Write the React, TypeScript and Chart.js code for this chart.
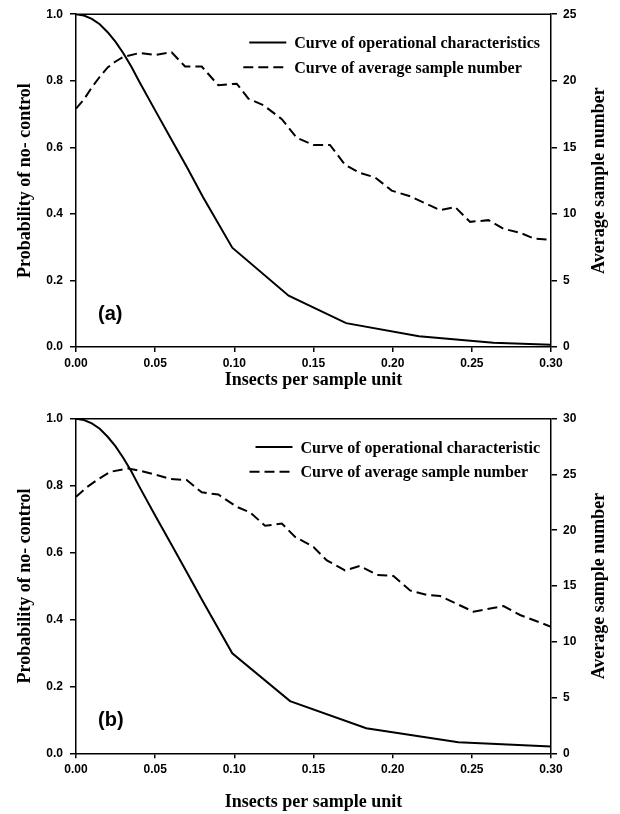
import React, { useEffect, useRef } from "react";
import { Chart, registerables } from "chart.js";
Chart.register(...registerables);

// ---------- Data: panel (a) ----------
const ocAX = [0, 0.005, 0.01, 0.015, 0.02, 0.025, 0.03, 0.035, 0.04, 0.05, 0.06, 0.07, 0.08, 0.0987, 0.1343, 0.1706, 0.2166, 0.2636, 0.3];
const ocAY = [1.0, 0.996, 0.986, 0.97, 0.946, 0.917, 0.882, 0.842, 0.797, 0.711, 0.626, 0.541, 0.452, 0.2985, 0.154, 0.0717, 0.032, 0.013, 0.007];
const asnAX = [0, 0.005, 0.01, 0.015, 0.02, 0.025, 0.03, 0.0404, 0.05, 0.0604, 0.0689, 0.0794, 0.0899, 0.1015, 0.1089, 0.1184, 0.13, 0.1394, 0.15, 0.1604, 0.1699, 0.1789, 0.1889, 0.1994, 0.211, 0.23, 0.2394, 0.2489, 0.2605, 0.27, 0.2805, 0.2889, 0.3];
const asnAY = [17.9, 18.6, 19.5, 20.3, 21.0, 21.45, 21.8, 22.09, 21.94, 22.14, 21.07, 21.07, 19.66, 19.78, 18.66, 18.16, 17.12, 15.72, 15.18, 15.18, 13.69, 13.1, 12.74, 11.75, 11.32, 10.28, 10.52, 9.4, 9.53, 8.88, 8.58, 8.16, 8.04];

// ---------- Data: panel (b) ----------
const ocBX = [0, 0.005, 0.01, 0.015, 0.02, 0.025, 0.03, 0.035, 0.04, 0.05, 0.06, 0.07, 0.08, 0.0987, 0.1352, 0.1833, 0.2415, 0.3];
const ocBY = [1.0, 0.996, 0.986, 0.97, 0.946, 0.917, 0.882, 0.842, 0.797, 0.711, 0.626, 0.541, 0.455, 0.299, 0.156, 0.0747, 0.033, 0.02];
const asnBX = [0, 0.0067, 0.0131, 0.0215, 0.033, 0.04, 0.05, 0.0594, 0.0699, 0.0794, 0.0899, 0.1015, 0.11, 0.1194, 0.13, 0.1384, 0.15, 0.1584, 0.1699, 0.1794, 0.19, 0.2005, 0.211, 0.2215, 0.23, 0.251, 0.27, 0.2805, 0.3];
const asnBY = [23.0, 23.84, 24.49, 25.23, 25.54, 25.35, 25.0, 24.6, 24.5, 23.4, 23.2, 22.1, 21.6, 20.4, 20.6, 19.4, 18.5, 17.3, 16.4, 16.8, 16.0, 15.9, 14.6, 14.2, 14.1, 12.7, 13.2, 12.4, 11.35];

// ---------- Labels ----------
const xTitle = "Insects per sample unit";
const yLeftTitle = "Probability of no- control";
const yRightTitle = "Average sample number";
const legendA = ["Curve of operational characteristics", "Curve of average sample number"];
const legendB = ["Curve of operational characteristic", "Curve of average sample number"];
const xTickValues = [0, 0.05, 0.1, 0.15, 0.2, 0.25, 0.3];

const SERIF = '"Liberation Serif", "Times New Roman", serif';
const SANS = '"Liberation Sans", Arial, sans-serif';

const zip = (xs: number[], ys: number[]) => xs.map((x, i) => ({ x, y: ys[i] }));

const decor = {
  id: "decor",
  afterDraw(chart: any, _args: any, opts: any) {
    const { ctx, chartArea: ca } = chart;
    ctx.save();
    // top frame line
    ctx.strokeStyle = "#000";
    ctx.lineWidth = 1.5;
    ctx.beginPath();
    ctx.moveTo(ca.left, ca.top);
    ctx.lineTo(ca.right, ca.top);
    ctx.stroke();

    // legend
    ctx.font = `bold 16px ${SERIF}`;
    ctx.fillStyle = "#000";
    ctx.textAlign = "left";
    ctx.textBaseline = "alphabetic";
    const ds = chart.data.datasets;
    const maxW = Math.max(...ds.map((d: any) => ctx.measureText(d.label).width));
    const tx = ca.right - 11 - maxW;
    const rows = [ca.top + 33.8, ca.top + 58.5];
    ds.forEach((d: any, i: number) => {
      const by = rows[i];
      ctx.fillText(d.label, tx, by);
      ctx.save();
      ctx.lineWidth = 2;
      ctx.setLineDash(d.borderDash || []);
      ctx.beginPath();
      if (d.borderDash && d.borderDash.length) {
        ctx.moveTo(tx - 51, by - 5.5);
        ctx.lineTo(tx - 11, by - 5.5);
      } else {
        ctx.moveTo(tx - 45, by - 5.5);
        ctx.lineTo(tx - 8, by - 5.5);
      }
      ctx.stroke();
      ctx.restore();
    });

    // panel label
    ctx.font = `bold 20px ${SANS}`;
    ctx.fillText(opts.panel, ca.left + 22, ca.bottom - 27.5);

    // right axis title (reads bottom to top)
    ctx.font = `bold 18px ${SERIF}`;
    ctx.translate(ca.right + 48, (ca.top + ca.bottom) / 2);
    ctx.rotate(-Math.PI / 2);
    ctx.textAlign = "center";
    ctx.textBaseline = "middle";
    ctx.fillText(opts.rightTitle, 0, 0);
    ctx.restore();
  },
};

function makeConfig(p: {
  ocX: number[]; ocY: number[]; asnX: number[]; asnY: number[];
  rightMax: number; legend: string[]; panel: string;
  topPad: number; xHeight: number; xTitlePad: number;
}) {
  const tickFont = { family: SANS, size: 12, weight: "bold" as const };
  const titleFont = { family: SERIF, size: 18, weight: "bold" as const };
  const grid = { display: true, drawOnChartArea: false, drawTicks: true, color: "#000", lineWidth: 1.5 };
  const border = { display: true, color: "#000", width: 1.5 };
  return {
    type: "line" as const,
    data: {
      datasets: [
        {
          label: p.legend[0],
          data: zip(p.ocX, p.ocY),
          yAxisID: "y",
          borderColor: "#000",
          borderWidth: 2,
          pointRadius: 0,
          tension: 0,
          fill: false,
        },
        {
          label: p.legend[1],
          data: zip(p.asnX, p.asnY),
          yAxisID: "y1",
          borderColor: "#000",
          borderWidth: 2,
          borderDash: [10, 5],
          pointRadius: 0,
          tension: 0,
          fill: false,
        },
      ],
    },
    options: {
      animation: false as const,
      responsive: false,
      devicePixelRatio: 1,
      layout: { padding: { top: p.topPad, left: 0, right: 0, bottom: 0 } },
      plugins: {
        legend: { display: false },
        tooltip: { enabled: false },
        decor: { panel: p.panel, rightTitle: yRightTitle },
      },
      scales: {
        x: {
          type: "linear" as const,
          position: "bottom" as const,
          min: 0,
          max: 0.3,
          afterBuildTicks: (s: any) => { s.ticks = xTickValues.map((v) => ({ value: v })); },
          ticks: {
            font: tickFont, color: "#000", padding: 4, maxRotation: 0, autoSkip: false,
            callback: (v: any) => Number(v).toFixed(2),
          },
          grid: { ...grid, tickLength: 5 },
          border,
          title: { display: true, text: xTitle, font: titleFont, color: "#000", padding: { top: 0, bottom: p.xTitlePad } },
          afterFit: (s: any) => { s.height = p.xHeight; },
        },
        y: {
          type: "linear" as const,
          position: "left" as const,
          min: 0,
          max: 1,
          ticks: {
            stepSize: 0.2, font: tickFont, color: "#000", padding: 7,
            callback: (v: any) => Number(v).toFixed(1),
          },
          grid: { ...grid, tickLength: 6 },
          border,
          title: { display: true, text: yLeftTitle, font: titleFont, color: "#000", padding: { top: 14.2, bottom: 0 } },
          afterFit: (s: any) => { s.width = 76; },
        },
        y1: {
          type: "linear" as const,
          position: "right" as const,
          min: 0,
          max: p.rightMax,
          ticks: {
            stepSize: 5, font: tickFont, color: "#000", padding: 6,
            callback: (v: any) => String(Math.round(Number(v))),
          },
          grid: { ...grid, tickLength: 6 },
          border,
          afterFit: (s: any) => { s.width = 69; },
        },
      },
    },
    plugins: [decor],
  };
}

function Panel({ cfg, top, height }: { cfg: any; top: number; height: number }) {
  const ref = useRef<HTMLCanvasElement | null>(null);
  useEffect(() => {
    if (!ref.current) return;
    const chart = new Chart(ref.current, cfg);
    return () => chart.destroy();
  }, []);
  return (
    <canvas
      ref={ref}
      width={620}
      height={height}
      style={{ position: "absolute", left: 0, top, width: 620, height, display: "block" }}
    />
  );
}

export default function App() {
  const cfgA = makeConfig({
    ocX: ocAX, ocY: ocAY, asnX: asnAX, asnY: asnAY, rightMax: 25,
    legend: legendA, panel: "(a)", topPad: 12, xHeight: 53, xTitlePad: 8.6,
  });
  const cfgB = makeConfig({
    ocX: ocBX, ocY: ocBY, asnX: asnBX, asnY: asnBY, rightMax: 30,
    legend: legendB, panel: "(b)", topPad: 18.7, xHeight: 60.7, xTitlePad: 1,
  });
  return (
    <div style={{ position: "absolute", left: 0, top: 0, width: 620, height: 814, background: "#fff" }}>
      <Panel cfg={cfgA} top={0} height={400} />
      <Panel cfg={cfgB} top={400} height={414} />
    </div>
  );
}
